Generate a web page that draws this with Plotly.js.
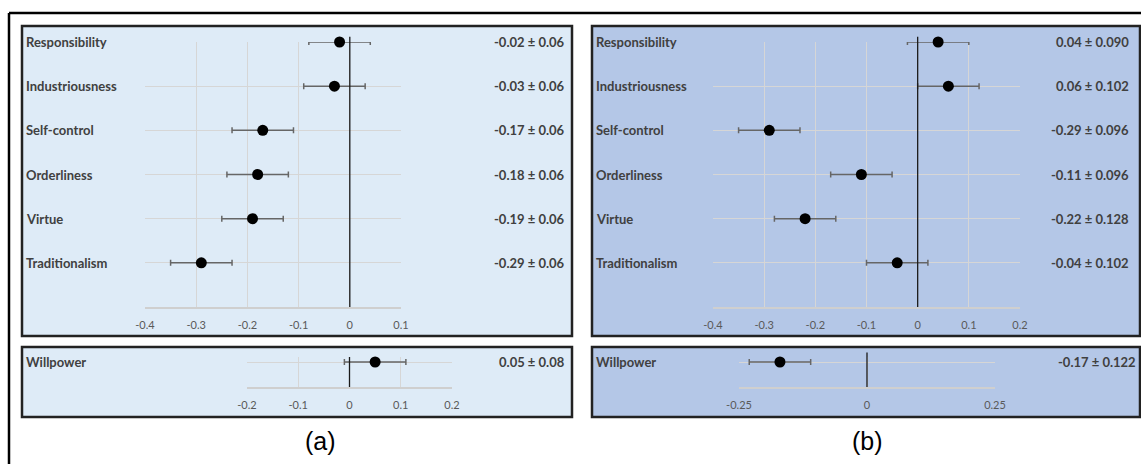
<!DOCTYPE html>
<html>
<head>
<meta charset="utf-8">
<script src="https://cdn.plot.ly/plotly-3.0.1.min.js"></script>
<style>html,body{margin:0;padding:0;background:#fff}#chart{width:1141px;height:464px}</style>
</head>
<body>
<div id="chart"></div>
<script>
// ---- data ----
const categories = ['Responsibility', 'Industriousness', 'Self-control', 'Orderliness', 'Virtue', 'Traditionalism'];
const aValues = [-0.02, -0.03, -0.17, -0.18, -0.19, -0.29];
const aErrors = [0.06, 0.06, 0.06, 0.06, 0.06, 0.06];
const aLabels = ['-0.02 ± 0.06', '-0.03 ± 0.06', '-0.17 ± 0.06', '-0.18 ± 0.06', '-0.19 ± 0.06', '-0.29 ± 0.06'];
const bValues = [0.04, 0.06, -0.29, -0.11, -0.22, -0.04];
const bErrors = [0.06, 0.06, 0.06, 0.06, 0.06, 0.06];
const bLabels = ['0.04 ± 0.090', '0.06 ± 0.102', '-0.29 ± 0.096', '-0.11 ± 0.096', '-0.22 ± 0.128', '-0.04 ± 0.102'];
const wpCategory = ['Willpower'];
const aWpValues = [0.05];
const aWpErrors = [0.06];
const aWpLabels = ['0.05 ± 0.08'];
const bWpValues = [-0.17];
const bWpErrors = [0.06];
const bWpLabels = ['-0.17 ± 0.122'];
const aTopTicks = [-0.4, -0.3, -0.2, -0.1, 0, 0.1];
const aTopTickText = ['-0.4', '-0.3', '-0.2', '-0.1', '0', '0.1'];
const bTopTicks = [-0.4, -0.3, -0.2, -0.1, 0, 0.1, 0.2];
const bTopTickText = ['-0.4', '-0.3', '-0.2', '-0.1', '0', '0.1', '0.2'];
const aWpTicks = [-0.2, -0.1, 0, 0.1, 0.2];
const aWpTickText = ['-0.2', '-0.1', '0', '0.1', '0.2'];
const bWpTicks = [-0.25, 0, 0.25];
const bWpTickText = ['-0.25', '0', '0.25'];
const panelTitles = ['(a)', '(b)'];

// ---- geometry helpers (pixels -> paper) ----
const W = 1141, H = 464;
const px = v => v / W;
const py = v => 1 - v / H;

const FONT = 'Lato, "Open Sans", sans-serif';
const labelFont = {family: FONT, size: 13, color: '#404040', weight: 'bold'};
const tickFont = {family: FONT, size: 11, color: '#595959'};
const GRID = '#d6d6d6';

function trace(x, y, err, xa, ya) {
  return {
    type: 'scatter', mode: 'markers', x: x, y: y, xaxis: xa, yaxis: ya,
    marker: {color: '#000', size: 11},
    error_x: {type: 'data', array: err, visible: true, color: '#666666', thickness: 1.5, width: 3},
    cliponaxis: false, showlegend: false, hoverinfo: 'x+y'
  };
}

const data = [
  trace(aValues, categories, aErrors, 'x', 'y'),
  trace(bValues, categories, bErrors, 'x2', 'y2'),
  trace(aWpValues, wpCategory, aWpErrors, 'x3', 'y3'),
  trace(bWpValues, wpCategory, bWpErrors, 'x4', 'y4')
];

function xax(domain, range, ticks, text, anchor) {
  return {
    domain: domain, range: range, anchor: anchor, tickmode: 'array', tickvals: ticks, ticktext: text,
    showgrid: true, gridcolor: GRID, gridwidth: 1, zeroline: false,
    showline: true, linecolor: '#cfcfcf', linewidth: 1.5, ticks: '', tickfont: tickFont,
    ticklabelstandoff: 7, fixedrange: true
  };
}
function yax(domain, cats, range, anchor) {
  return {
    domain: domain, type: 'category', categoryorder: 'array', categoryarray: cats, range: range,
    anchor: anchor, showgrid: true, gridcolor: GRID, gridwidth: 1, zeroline: false,
    showline: false, showticklabels: false, ticks: '', fixedrange: true
  };
}

const topY = [py(307), py(42)];
const botY = [py(387), py(357)];

const layout = {
  width: W, height: H, margin: {l: 0, r: 0, t: 0, b: 0},
  paper_bgcolor: '#ffffff', plot_bgcolor: 'rgba(0,0,0,0)',
  showlegend: false,
  xaxis: xax([px(145), px(401)], [-0.4, 0.1], aTopTicks, aTopTickText, 'y'),
  yaxis: yax(topY, categories, [6, 0], 'x'),
  xaxis2: xax([px(713), px(1020)], [-0.4, 0.2], bTopTicks, bTopTickText, 'y2'),
  yaxis2: yax(topY, categories, [6, 0], 'x2'),
  xaxis3: xax([px(247), px(452)], [-0.2, 0.2], aWpTicks, aWpTickText, 'y3'),
  yaxis3: yax(botY, wpCategory, [1, -0.2], 'x3'),
  xaxis4: xax([px(739), px(995)], [-0.25, 0.25], bWpTicks, bWpTickText, 'y4'),
  yaxis4: yax(botY, wpCategory, [1, -0.2], 'x4'),
  shapes: [],
  annotations: []
};

// panel boxes
const boxes = [
  {x0: 22, x1: 572, y0: 26, y1: 336, fill: '#deebf7'},
  {x0: 22, x1: 572, y0: 347, y1: 417, fill: '#deebf7'},
  {x0: 592, x1: 1140, y0: 26, y1: 336, fill: '#b4c7e7'},
  {x0: 592, x1: 1140, y0: 347, y1: 417, fill: '#b4c7e7'}
];
boxes.forEach(b => layout.shapes.push({
  type: 'rect', xref: 'paper', yref: 'paper', layer: 'below',
  x0: px(b.x0), x1: px(b.x1), y0: py(b.y1), y1: py(b.y0),
  fillcolor: b.fill, line: {color: '#222222', width: 2.5}
}));
// outer frame lines
layout.shapes.push({type: 'line', xref: 'paper', yref: 'paper', x0: px(9), x1: 1, y0: py(13), y1: py(13), line: {color: '#000', width: 2.5}});
layout.shapes.push({type: 'line', xref: 'paper', yref: 'paper', x0: px(9), x1: px(9), y0: py(13), y1: 0, line: {color: '#000', width: 2.5}});

// zero reference lines
[['x', 'y domain', 1.02], ['x2', 'y2 domain', 1.02], ['x3', 'y3 domain', 1.0], ['x4', 'y4 domain', 1.15]].forEach(r => {
  layout.shapes.push({type: 'line', xref: r[0], yref: r[1], x0: 0, x1: 0, y0: 0, y1: r[2], layer: 'above',
    line: {color: '#1a1a1a', width: 1.3}});
});

// category names and value labels
function addLabels(cats, labels, yref, nameX, valX) {
  cats.forEach((c, i) => {
    layout.annotations.push({text: c, xref: 'paper', x: px(nameX), xanchor: 'left', yref: yref, y: i,
      yanchor: 'middle', showarrow: false, font: labelFont});
    layout.annotations.push({text: labels[i], xref: 'paper', x: px(valX), xanchor: 'right', yref: yref, y: i,
      yanchor: 'middle', showarrow: false, font: labelFont});
  });
}
addLabels(categories, aLabels, 'y', 24, 567);
addLabels(categories, bLabels, 'y2', 594, 1131);
addLabels(wpCategory, aWpLabels, 'y3', 24, 567);
addLabels(wpCategory, bWpLabels, 'y4', 594, 1138);

// panel titles
layout.annotations.push({text: panelTitles[0], xref: 'paper', yref: 'paper', x: px(320), y: py(441),
  xanchor: 'center', yanchor: 'middle', showarrow: false, font: {family: '"Liberation Sans", Arial, sans-serif', size: 25, color: '#000'}});
layout.annotations.push({text: panelTitles[1], xref: 'paper', yref: 'paper', x: px(867), y: py(441),
  xanchor: 'center', yanchor: 'middle', showarrow: false, font: {family: '"Liberation Sans", Arial, sans-serif', size: 25, color: '#000'}});

Plotly.newPlot('chart', data, layout, {staticPlot: true, displayModeBar: false});
</script>
</body>
</html>
